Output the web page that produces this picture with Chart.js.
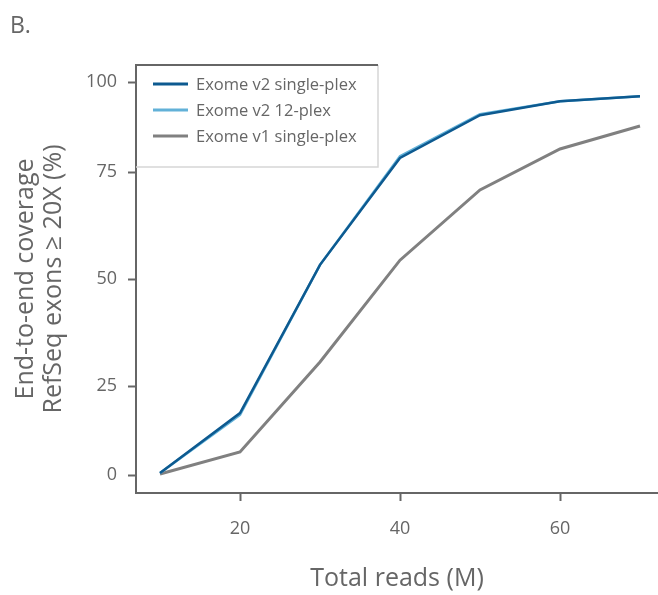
<!DOCTYPE html>
<html>
<head>
<meta charset="utf-8">
<script src="https://cdn.jsdelivr.net/npm/chart.js@4.4.0/dist/chart.umd.min.js"></script>
<style>
  html, body { margin: 0; padding: 0; background: #fff; }
  #wrap { width: 658px; height: 595px; position: relative; }
</style>
</head>
<body>
<div id="wrap"><canvas id="coverageChart"></canvas></div>
<script>
// Data
const totalReads = [10, 20, 30, 40, 50, 60, 70];
const v2SinglePlex = [0.6, 17.4, 53.3, 78.9, 90.8, 94.7, 96.1];
const v2TwelvePlex = [0.6, 16.9, 53.3, 79.4, 91.1, 94.7, 96.1];
const v1SinglePlex = [0.3, 6.5, 30.6, 54.4, 70.8, 81.4, 87.8];
const xTickValues = [20, 40, 60];
const yTickValues = [0, 25, 50, 75, 100];
const seriesNames = ['Exome v2 single-plex', 'Exome v2 12-plex', 'Exome v1 single-plex'];

const textColor = '#666666';
const axisColor = '#666666';
const fontFamily = '"Open Sans", Lato, sans-serif';

// The figure's y ticks are not evenly spaced, so the axis is piecewise linear
const warpValues = [-5, 0, 25, 50, 75, 100, 105];
const warpFracs = [0, 0.042, 0.25, 0.5, 0.75, 0.96, 1];

class WarpScale extends Chart.LinearScale {
  getPixelForValue(value) {
    if (value === null || value === undefined) return NaN;
    let i = 1;
    while (i < warpValues.length - 1 && value > warpValues[i]) i++;
    const v0 = warpValues[i - 1], v1 = warpValues[i];
    const f0 = warpFracs[i - 1], f1 = warpFracs[i];
    const frac = f0 + (value - v0) / (v1 - v0) * (f1 - f0);
    return this.getPixelForDecimal(frac);
  }
  getValueForPixel(pixel) {
    const frac = this.getDecimalForPixel(pixel);
    let i = 1;
    while (i < warpFracs.length - 1 && frac > warpFracs[i]) i++;
    const v0 = warpValues[i - 1], v1 = warpValues[i];
    const f0 = warpFracs[i - 1], f1 = warpFracs[i];
    return v0 + (frac - f0) / (f1 - f0) * (v1 - v0);
  }
}
WarpScale.id = 'warp';
WarpScale.defaults = Chart.LinearScale.defaults;
Chart.register(WarpScale);

// Panel letter and boxed legend drawn inside the plot
const decorPlugin = {
  id: 'decor',
  afterDraw(chart) {
    const ctx = chart.ctx;
    const area = chart.chartArea;
    ctx.save();
    ctx.fillStyle = textColor;
    ctx.font = '23px ' + fontFamily;
    ctx.textBaseline = 'middle';
    ctx.textAlign = 'left';
    ctx.fillText('B.', 10, 26);

    const bx = area.left, by = area.top, bw = 242, bh = 102;
    ctx.fillStyle = '#ffffff';
    ctx.fillRect(bx + 1, by, bw - 1, bh);
    ctx.strokeStyle = '#d6d6d6';
    ctx.lineWidth = 1.5;
    ctx.beginPath();
    ctx.moveTo(bx, by + bh);
    ctx.lineTo(bx + bw, by + bh);
    ctx.lineTo(bx + bw, by);
    ctx.stroke();
    ctx.strokeStyle = axisColor;
    ctx.lineWidth = 2;
    ctx.beginPath();
    ctx.moveTo(bx - 1, by);
    ctx.lineTo(bx + bw, by);
    ctx.stroke();

    ctx.font = '16.5px ' + fontFamily;
    chart.data.datasets.forEach((ds, i) => {
      const y = by + 19 + i * 26;
      ctx.strokeStyle = ds.borderColor;
      ctx.lineWidth = 3;
      ctx.beginPath();
      ctx.moveTo(bx + 17, y);
      ctx.lineTo(bx + 52, y);
      ctx.stroke();
      ctx.fillStyle = textColor;
      ctx.fillText(ds.label, bx + 60, y + 1);
    });
    ctx.restore();
  }
};

const ctx = document.getElementById('coverageChart').getContext('2d');
const coverageChart = new Chart(ctx, {
  type: 'line',
  data: {
    labels: totalReads,
    datasets: [
      {
        label: seriesNames[0],
        data: totalReads.map((x, i) => ({ x: x, y: v2SinglePlex[i] })),
        borderColor: '#0d5a90', // dark blue
        borderWidth: 2.5
      },
      {
        label: seriesNames[1],
        data: totalReads.map((x, i) => ({ x: x, y: v2TwelvePlex[i] })),
        borderColor: '#62b1d8', // light blue
        borderWidth: 2.5
      },
      {
        label: seriesNames[2],
        data: totalReads.map((x, i) => ({ x: x, y: v1SinglePlex[i] })),
        borderColor: '#808080', // gray
        borderWidth: 3
      }
    ]
  },
  options: {
    responsive: true,
    maintainAspectRatio: false,
    animation: false,
    devicePixelRatio: 1,
    elements: {
      point: { radius: 0 },
      line: { tension: 0, fill: false }
    },
    layout: { padding: { top: 65, left: 0, right: 0, bottom: 0 } },
    scales: {
      x: {
        type: 'linear',
        min: 7,
        max: 72.25,
        afterBuildTicks: scale => { scale.ticks = xTickValues.map(v => ({ value: v })); },
        afterFit: scale => { scale.height = 102; },
        grid: { drawOnChartArea: false, tickLength: 8, tickColor: axisColor, tickWidth: 2 },
        border: { color: axisColor, width: 2 },
        ticks: { color: textColor, padding: 17, font: { family: fontFamily, size: 18 } },
        title: {
          display: true,
          text: 'Total reads (M)',
          color: textColor,
          font: { family: fontFamily, size: 25 },
          padding: { top: 0, bottom: 1 }
        }
      },
      y: {
        type: 'warp',
        min: -5,
        max: 105,
        afterBuildTicks: scale => { scale.ticks = yTickValues.map(v => ({ value: v })); },
        afterFit: scale => { scale.width = 136; },
        grid: { drawOnChartArea: false, tickLength: 8, tickColor: axisColor, tickWidth: 2 },
        border: { color: axisColor, width: 2 },
        ticks: { color: textColor, padding: 11, font: { family: fontFamily, size: 18 } },
        title: {
          display: true,
          text: ['End-to-end coverage', 'RefSeq exons \u2265 20X (%)'],
          color: textColor,
          font: { family: fontFamily, size: 25, lineHeight: 1.12 },
          padding: { top: 12, bottom: 0 }
        }
      }
    },
    plugins: {
      legend: { display: false },
      tooltip: { enabled: false }
    }
  },
  plugins: [decorPlugin]
});
</script>
</body>
</html>
